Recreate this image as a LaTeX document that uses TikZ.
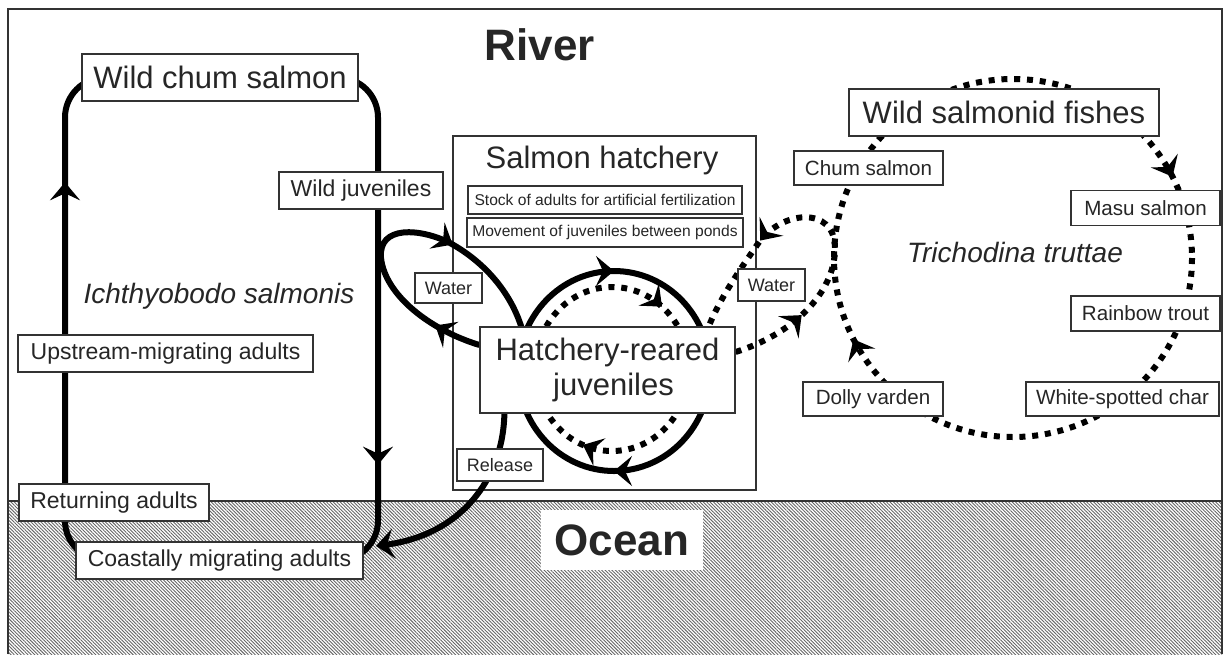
\documentclass[tikz,border=0pt]{standalone}
\usepackage{fontspec}
\setmainfont{Liberation Sans}
\usetikzlibrary{arrows.meta,decorations.markings,patterns.meta,calc}
\pgfdeclarelayer{back}
\pgfdeclarelayer{lines}
\pgfsetlayers{back,lines,main}
\tikzset{
  barb/.tip={Stealth[length=9pt, width=15pt, inset=3.5pt]},
  markat/.style={postaction={decorate, decoration={markings, mark=at position #1 with {\arrow{barb}}}}},
}
\begin{document}
\begin{tikzpicture}[x=0.5pt, y=-0.5pt,
    every node/.style={text=black!85},
    box/.style={draw=black!80, line width=0.6pt, fill=white, inner sep=0pt},
    bigtxt/.style={font=\fontsize{15.5}{17.5}\selectfont},
    lefttxt/.style={font=\fontsize{11.5}{13}\selectfont},
    fishtxt/.style={font=\fontsize{10.3}{12}\selectfont},
    smalltxt/.style={font=\fontsize{9}{10}\selectfont},
    tinytxt/.style={font=\fontsize{7.8}{9}\selectfont},
    sptxt/.style={font=\itshape\fontsize{14}{16}\selectfont},
    areatxt/.style={font=\bfseries\fontsize{22}{26}\selectfont},
    flow/.style={line width=3pt, black},
    dotflow/.style={line width=3pt, black, dash pattern=on 3pt off 3.4pt},
  ]
  \useasboundingbox (0,0) rectangle (1224,654);

  % ocean and frame
  \begin{pgfonlayer}{back}
    \fill[pattern={Lines[angle=-45, distance=1.2pt, line width=0.45pt]}, pattern color=black!60] (8,501) rectangle (1222,654);
    \draw[line width=0.6pt, black!80] (8,501) -- (1222,501);
    \draw[line width=0.7pt, black!80] (8,654) -- (8,9) -- (1222,9) -- (1222,654);
    \node[draw=black!80, line width=0.6pt, minimum width=151.5pt, minimum height=177pt] (hatch) at (604.5,313) {};
  \end{pgfonlayer}

  \node[areatxt] (river) at (540,45) {River};
  \node[areatxt, fill=white, minimum width=81pt, minimum height=30pt] (ocean) at (622,540) {Ocean};

  % wild chum salmon cycle
  \node[box, bigtxt, minimum width=138pt, minimum height=23.5pt] (wcs) at (220,77.5) {Wild chum salmon};
  \node[box, lefttxt, minimum width=82pt, minimum height=18.5pt] (wjuv) at (361,190.5) {Wild juveniles};
  \node[box, lefttxt, minimum width=147.5pt, minimum height=18.5pt] (upstr) at (165.5,353.5) {Upstream-migrating adults};
  \node[box, lefttxt, minimum width=95pt, minimum height=18.5pt] (ret) at (114,502.5) {Returning adults};
  \node[box, lefttxt, minimum width=143.5pt, minimum height=18.5pt] (coast) at (219.5,560.5) {Coastally migrating adults};
  \node[sptxt] (ich) at (219,296) {Ichthyobodo salmonis};

  % hatchery
  \node[bigtxt] (hname) at (602,160) {Salmon hatchery};
  \node[box, tinytxt, minimum width=137pt, minimum height=14pt] (stock) at (605,200) {Stock of adults for artificial fertilization};
  \node[box, tinytxt, minimum width=138pt, minimum height=14.5pt] (move) at (605,232.5) {Movement of juveniles between ponds};
  \node[box, bigtxt, align=center, minimum width=127.5pt, minimum height=43pt] (hrj) at (607.5,370) {Hatchery-reared\\\hspace*{6pt}juveniles};
  \node[box, smalltxt, minimum width=33.5pt, minimum height=15pt] (waterl) at (448.5,288) {Water};
  \node[box, smalltxt, minimum width=33.5pt, minimum height=16pt] (waterr) at (771.5,285) {Water};
  \node[box, smalltxt, minimum width=43pt, minimum height=16pt] (rel) at (500,465) {Release};
  \coordinate (relend) at (376,546);

  % wild salmonid fishes
  \node[box, bigtxt, minimum width=155pt, minimum height=23.5pt] (wsf) at (1004,112.5) {Wild salmonid fishes};
  \node[box, fishtxt, minimum width=74.5pt, minimum height=17pt] (chum) at (868.5,168) {Chum salmon};
  \node[box, fishtxt, minimum width=74.5pt, minimum height=17.5pt] (masu) at (1145.5,208) {Masu salmon};
  \node[box, fishtxt, minimum width=74.5pt, minimum height=17.5pt] (rainbow) at (1145.5,313.5) {Rainbow trout};
  \node[box, fishtxt, minimum width=96.5pt, minimum height=17pt] (wsc) at (1122.5,399) {White-spotted char};
  \node[box, fishtxt, minimum width=70pt, minimum height=17pt] (dolly) at (873,399) {Dolly varden};
  \node[sptxt] (tri) at (1015,252) {Trichodina truttae};

  \begin{pgfonlayer}{lines}
    \draw[flow, rounded corners=20pt, markat=0.68] (coast.center) -- (65,560.5) -- (65,77.5) -- (wcs.center);
    \draw[flow, rounded corners=20pt, markat=0.69] (wcs.center) -- (378,77.5) -- (378,560.5) -- (coast.center);
    \draw[flow, -{barb}] ($(hrj.south west)+(25,0)$) .. controls (503,480) and (460,535) .. (relend);
    \draw[flow, markat=0.14, markat=0.66] ($(hrj.west)+(0,-25)$) .. controls (430,330) and (385,295) .. (381,258)
      .. controls (378,225) and (420,228) .. (450,243) .. controls (490,265) and (515,300) .. ($(hrj.north west)+(44,8)$);
    \draw[dotflow, markat=0.21, markat=0.7] ($(hrj.east)+(0,-18)$) .. controls (790,335) and (835,295) .. (835,248)
      .. controls (835,205) and (780,210) .. (757,245) .. controls (740,270) and (718,300) .. ($(hrj.north east)+(-30,8)$);
    \draw[flow, markat=0.75, markat=0.25] (614,371) circle[x radius=96, y radius=100];
    \draw[dotflow, markat=0.86, markat=0.31] (612,369) circle[x radius=77, y radius=82];
    \draw[dotflow, markat=0.925, markat=0.425] (1013,258) circle[radius=179];
  \end{pgfonlayer}
\end{tikzpicture}
\end{document}
